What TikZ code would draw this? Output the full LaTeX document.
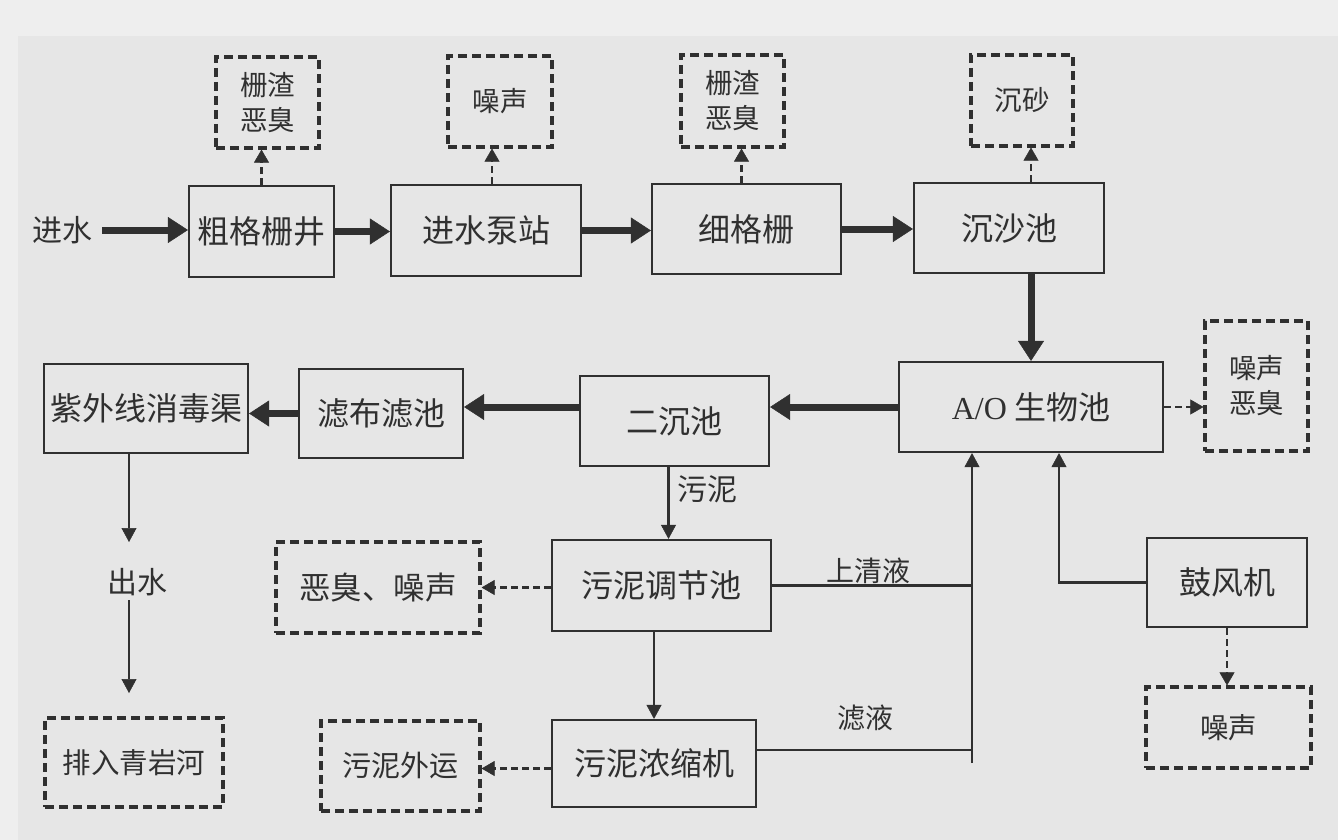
\documentclass[tikz,border=0pt]{standalone}
\usepackage{fontspec}
\setmainfont{Noto Sans CJK SC}
\newfontfamily\latfont{Liberation Serif}
\usetikzlibrary{arrows.meta}
\definecolor{bgc}{RGB}{230,230,230}
\definecolor{bgl}{RGB}{238,238,238}
\definecolor{ink}{RGB}{48,48,48}
\begin{document}
\begin{tikzpicture}[x=1pt,y=-1pt,
  box/.style={draw=ink,line width=2.2pt,inner sep=0pt,text=ink,font=\fontsize{32}{36}\selectfont},
  dbox/.style={draw=ink,line width=3.2pt,dash pattern=on 9pt off 5pt,inner sep=0pt,align=center,text=ink,font=\fontsize{27.5}{35}\selectfont},
  flow/.style={draw=ink,line width=7pt,-{Triangle[length=20pt,width=26pt,line width=0.5pt]}},
  thinline/.style={draw=ink,line width=2.4pt},
  tarr/.style={thinline,-{Triangle[length=14pt,width=15pt,line width=0.5pt]}},
  darr/.style={draw=ink,line width=2.6pt,dash pattern=on 7pt off 4pt,-{Triangle[length=13pt,width=15pt,line width=0.5pt]}},
  lbl/.style={inner sep=0pt,text=ink,font=\fontsize{28}{32}\selectfont}
]
\useasboundingbox (0,0) rectangle (1338,840);
\fill[bgl] (0,0) rectangle (1338,840);
\fill[bgc] (18,36) rectangle (1338,840);

% top row
\node[lbl,font=\fontsize{30}{34}\selectfont,inner xsep=10pt] (in) at (62,230) {进水};
\node[box,minimum width=145pt,minimum height=91pt] (cgs) at (261.5,231.5) {粗格栅井};
\node[dbox,minimum width=103pt,minimum height=91pt] (d1) at (267.5,102.5) {栅渣\\恶臭};
\node[box,minimum width=190pt,minimum height=91pt] (pump) at (486,230.5) {进水泵站};
\node[dbox,minimum width=104pt,minimum height=91pt] (d2) at (500,101.5) {噪声};
\node[box,minimum width=189pt,minimum height=90pt] (fine) at (746.5,229) {细格栅};
\node[dbox,minimum width=103pt,minimum height=92pt] (d3) at (732.5,101) {栅渣\\恶臭};
\node[box,minimum width=190pt,minimum height=90pt] (grit) at (1009,228) {沉沙池};
\node[dbox,minimum width=102pt,minimum height=91pt] (d4) at (1022,100.5) {沉砂};

% middle row
\node[box,minimum width=264pt,minimum height=90pt] (ao) at (1031,407) {{\latfont A/O} 生物池};
\node[dbox,minimum width=103pt,minimum height=130pt] (d5) at (1256.5,386) {噪声\\恶臭};
\node[box,minimum width=189pt,minimum height=90pt] (sec) at (674.5,421) {二沉池};
\node[box,minimum width=164pt,minimum height=89pt] (cloth) at (381,413.5) {滤布滤池};
\node[box,minimum width=204pt,minimum height=89pt] (uv) at (146,408.5) {紫外线消毒渠};

% lower part
\node[lbl,font=\fontsize{30}{34}\selectfont] (out) at (137,582) {出水};
\node[dbox,minimum width=178pt,minimum height=89pt,font=\fontsize{28.5}{32}\selectfont] (river) at (134,762.5) {排入青岩河};
\node[box,minimum width=219pt,minimum height=91pt] (sreg) at (661.5,585.5) {污泥调节池};
\node[dbox,minimum width=204pt,minimum height=91pt,font=\fontsize{31.5}{34}\selectfont] (d6) at (378,587.5) {恶臭、噪声};
\node[box,minimum width=204pt,minimum height=87pt] (thick) at (654,763.5) {污泥浓缩机};
\node[dbox,minimum width=159pt,minimum height=90pt,font=\fontsize{29}{32}\selectfont] (d7) at (400.5,766) {污泥外运};
\node[box,minimum width=160pt,minimum height=89pt] (blower) at (1227,582.5) {鼓风机};
\node[dbox,minimum width=165pt,minimum height=81pt,font=\fontsize{28.5}{32}\selectfont] (d8) at (1228.5,727.5) {噪声};

% main flow
\draw[flow] (in.east) -- (in.east -| cgs.west);
\draw[flow] (cgs.east) -- (cgs.east -| pump.west);
\draw[flow] (pump.east) -- (pump.east -| fine.west);
\draw[flow] (fine.east) -- (fine.east -| grit.west);
\draw[flow] (grit.south -| ao.north) -- (ao.north);
\draw[flow] (ao.west) -- (ao.west -| sec.east);
\draw[flow] (sec.west |- ao.west) -- (cloth.east |- ao.west);
\draw[flow] (cloth.west) -- (cloth.west -| uv.east);

% emissions
\draw[darr] (cgs.north) -- (cgs.north |- d1.south);
\draw[darr] ([xshift=6pt]pump.north) -- ([xshift=6pt]pump.north |- d2.south);
\draw[darr] ([xshift=-5pt]fine.north) -- ([xshift=-5pt]fine.north |- d3.south);
\draw[darr] (grit.north -| ao.north) -- (d4.south -| ao.north);
\draw[darr] (ao.east) -- (ao.east -| d5.west);
\draw[darr] (sreg.west |- d6.east) -- (d6.east);
\draw[darr] ([yshift=-5pt]thick.west) -- ([yshift=-5pt]thick.west -| d7.east);
\draw[darr] (blower.south) -- (blower.south |- d8.north);

% effluent
\coordinate (o1) at (129,542);
\coordinate (o2) at (129,600);
\coordinate (o3) at (129,693);
\draw[tarr] (uv.south -| o1) -- (o1);
\draw[tarr] (o2) -- (o3);

% sludge
\draw[tarr] ([xshift=-6pt]sec.south) -- ([xshift=-6pt]sec.south |- sreg.north);
\node[lbl,font=\fontsize{30}{34}\selectfont] (sl) at (707,489) {污泥};
\draw[tarr] (thick.north |- sreg.south) -- (thick.north);

% return lines
\coordinate (j1) at (972,763);
\coordinate (j2) at (972,750);
\coordinate (j3) at (1059,582.5);
\draw[tarr] (j1) -- (j1 |- ao.south);
\draw[thinline] (sreg.east) -- (sreg.east -| j1);
\node[lbl] (sup) at (868,571) {上清液};
\draw[thinline] (thick.east |- j2) -- (j2);
\node[lbl] (filt) at (865,718) {滤液};
\draw[tarr] (blower.west) -- (j3) -- (j3 |- ao.south);
\end{tikzpicture}
\end{document}
